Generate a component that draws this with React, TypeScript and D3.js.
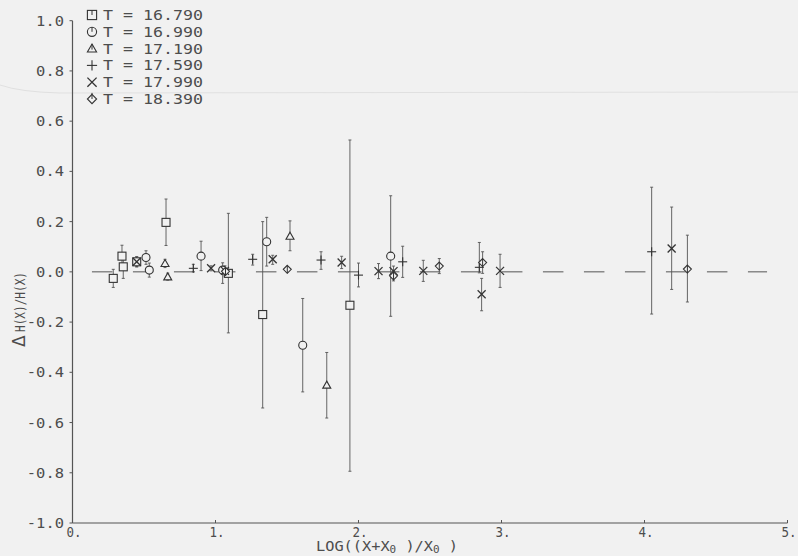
import React from "react";
import * as d3 from "d3";

const W = 798;
const H = 556;

// axis ticks
const xTicks = [0, 1, 2, 3, 4, 5];
const xTickLabels = ["0.", "1.", "2.", "3.", "4.", "5."];
const yTicks = [-1, -0.8, -0.6, -0.4, -0.2, 0, 0.2, 0.4, 0.6, 0.8, 1.0];
const yTickLabels = ["-1.0", "-0.8", "-0.6", "-0.4", "-0.2", "0.0", "0.2", "0.4", "0.6", "0.8", "1.0"];

// legend
const legendLabels = ["T = 16.790", "T = 16.990", "T = 17.190", "T = 17.590", "T = 17.990", "T = 18.390"];
const symbolKinds = ["square", "circle", "triangle", "plus", "cross", "diamond"];

// T = 16.790 (squares)
const sqX = [0.285, 0.346, 0.355, 0.449, 0.654, 1.09, 1.33, 1.94];
const sqY = [-0.026, 0.0625, 0.02, 0.04, 0.197, -0.006, -0.17, -0.133];
const sqLo = [-0.062, 0.018, -0.026, 0.02, 0.105, -0.243, -0.542, -0.794];
const sqHi = [0.01, 0.106, 0.066, 0.06, 0.29, 0.233, 0.2, 0.525];

// T = 16.990 (circles)
const ciX = [0.514, 0.537, 0.899, 1.05, 1.358, 1.61, 2.225];
const ciY = [0.057, 0.007, 0.0625, 0.007, 0.12, -0.292, 0.0625];
const ciLo = [0.03, -0.021, 0.005, -0.046, 0.023, -0.478, -0.177];
const ciHi = [0.084, 0.035, 0.122, 0.036, 0.217, -0.106, 0.303];

// T = 17.190 (triangles)
const trX = [0.647, 0.666, 1.521, 1.778];
const trY = [0.033, -0.02, 0.142, -0.451];
const trLo = [0.017, -0.033, 0.084, -0.582];
const trHi = [0.05, -0.005, 0.203, -0.321];

// T = 17.590 (plus)
const plX = [0.845, 1.26, 1.738, 2.0, 2.309, 2.845, 4.05];
const plY = [0.014, 0.05, 0.047, -0.013, 0.04, 0.018, 0.08];
const plLo = [0.0, 0.027, 0.01, -0.06, -0.022, -0.004, -0.168];
const plHi = [0.03, 0.07, 0.08, 0.035, 0.102, 0.117, 0.337];

// T = 17.990 (crosses)
const crX = [0.449, 0.969, 1.066, 1.4, 1.882, 2.14, 2.245, 2.453, 2.861, 2.99, 4.19];
const crY = [0.04, 0.014, 0.004, 0.05, 0.037, 0.003, 0.003, 0.004, -0.089, 0.004, 0.093];
const crLo = [0.02, 0.004, -0.016, 0.03, 0.013, -0.027, -0.017, -0.038, -0.155, -0.062, -0.07];
const crHi = [0.06, 0.024, 0.024, 0.066, 0.062, 0.033, 0.023, 0.046, -0.026, 0.07, 0.258];

// T = 18.390 (diamonds)
const diX = [1.07, 1.502, 2.245, 2.565, 2.868, 4.3];
const diY = [0.002, 0.01, -0.016, 0.023, 0.037, 0.011];
const diLo = [-0.008, 0.0, -0.036, -0.007, -0.006, -0.12];
const diHi = [0.012, 0.02, 0.004, 0.053, 0.08, 0.146];

const zeroLineFrom = 0.136;
const zeroLineTo = 4.857;

const seriesX = [sqX, ciX, trX, plX, crX, diX];
const seriesY = [sqY, ciY, trY, plY, crY, diY];
const seriesLo = [sqLo, ciLo, trLo, plLo, crLo, diLo];
const seriesHi = [sqHi, ciHi, trHi, plHi, crHi, diHi];

const BG = "#f1f1f1";
const INK = "#333";
const LINE = "#555";
const TXT = "#4d4d4d";
const MONO = "'DejaVu Sans Mono', 'Liberation Mono', monospace";

const xScale = d3.scaleLinear().domain([0, 5]).range([72.5, 787.5]);
const yScale = d3.scaleLinear().domain([-1, 1]).range([523, 20.7]);

function Marker({ kind, cx, cy, s = 1, tick = false }: { kind: string; cx: number; cy: number; s?: number; tick?: boolean }) {
  const common = { fill: BG, stroke: INK, strokeWidth: 1.1 };
  const r = 4 * s;
  const tk = tick ? <line x1={cx} x2={cx} y1={cy - r} y2={cy} stroke={INK} strokeWidth={1} /> : null;
  switch (kind) {
    case "square":
      return (
        <g>
          <rect x={cx - r} y={cy - r} width={2 * r} height={2 * r} {...common} />
          {tk}
        </g>
      );
    case "circle":
      return (
        <g>
          <circle cx={cx} cy={cy} r={r} {...common} />
          {tk}
        </g>
      );
    case "triangle": {
      const p = d3.path();
      p.moveTo(cx, cy - r);
      p.lineTo(cx + r, cy + r * 0.75);
      p.lineTo(cx - r, cy + r * 0.75);
      p.closePath();
      return (
        <g>
          <path d={p.toString()} {...common} />
          {tick ? <line x1={cx} x2={cx} y1={cy - r} y2={cy + 1} stroke={INK} strokeWidth={1} /> : null}
        </g>
      );
    }
    case "plus":
      return (
        <g stroke={INK} strokeWidth={1.1}>
          <line x1={cx - r - 0.5} x2={cx + r + 0.5} y1={cy} y2={cy} />
          <line x1={cx} x2={cx} y1={cy - r - 0.5} y2={cy + r + 0.5} />
        </g>
      );
    case "cross":
      return (
        <g stroke={INK} strokeWidth={1.3}>
          <line x1={cx - r} x2={cx + r} y1={cy - r} y2={cy + r} />
          <line x1={cx - r} x2={cx + r} y1={cy + r} y2={cy - r} />
        </g>
      );
    case "diamond": {
      const p = d3.path();
      p.moveTo(cx, cy - r);
      p.lineTo(cx + r, cy);
      p.lineTo(cx, cy + r);
      p.lineTo(cx - r, cy);
      p.closePath();
      return (
        <g>
          <path d={p.toString()} {...common} />
          <line x1={cx} x2={cx} y1={cy - r - (tick ? 1.5 : 0)} y2={cy + (tick ? 0 : r)} stroke={INK} strokeWidth={1} />
        </g>
      );
    }
  }
  return null;
}

export default function App() {
  const zeroY = yScale(0);
  return (
    <div style={{ position: "fixed", left: 0, top: 0, width: W, height: H, background: BG }}>
      <svg width={W} height={H} viewBox={`0 0 ${W} ${H}`} style={{ display: "block" }}>
        <rect x={0} y={0} width={W} height={H} fill={BG} />
        {/* faint scan line */}
        <path d="M0,85 Q20,92 60,93 L798,92" fill="none" stroke="#e0e0e0" strokeWidth={1} />

        {/* axes */}
        <line x1={xScale(0)} x2={xScale(0)} y1={yScale(1)} y2={yScale(-1)} stroke={LINE} strokeWidth={1.2} />
        <line x1={xScale(0)} x2={xScale(5)} y1={yScale(-1)} y2={yScale(-1)} stroke={LINE} strokeWidth={1.2} />
        {yTicks.map((t, i) => (
          <g key={"yt" + i}>
            <line x1={xScale(0) - 3} x2={xScale(0)} y1={yScale(t)} y2={yScale(t)} stroke={LINE} strokeWidth={1} />
            <text
              x={64}
              y={yScale(t) + 5}
              textAnchor="end"
              fontFamily={MONO}
              fontSize={14}
              fill={TXT}
              textLength={yTickLabels[i].length * 9.3}
              lengthAdjust="spacingAndGlyphs"
            >
              {yTickLabels[i]}
            </text>
          </g>
        ))}
        {xTicks.map((t, i) => (
          <g key={"xt" + i}>
            <line x1={xScale(t)} x2={xScale(t)} y1={yScale(-1)} y2={yScale(-1) - 3} stroke={LINE} strokeWidth={1} />
            <text
              x={xScale(t) - 6}
              y={537}
              fontFamily={MONO}
              fontSize={14}
              fill={TXT}
              textLength={15}
              lengthAdjust="spacingAndGlyphs"
            >
              {xTickLabels[i]}
            </text>
          </g>
        ))}

        {/* axis titles */}
        <text x={316} y={551} fontFamily={MONO} fontSize={14} fill={TXT} textLength={142} lengthAdjust="spacingAndGlyphs">
          LOG((X+X<tspan fontSize={10} dy={2}>0</tspan>
          <tspan dy={-2}> )/X</tspan>
          <tspan fontSize={10} dy={2}>0</tspan>
          <tspan dy={-2}> )</tspan>
        </text>
        <g transform="translate(25,0) rotate(-90)">
          <text x={-347} y={0} fontFamily="'DejaVu Sans', sans-serif" fontSize={17} fill={TXT}>
            Δ
          </text>
          <text x={-332} y={0} fontFamily={MONO} fontSize={14} fill={TXT} textLength={60} lengthAdjust="spacingAndGlyphs">
            H(X)/H(X)
          </text>
        </g>

        {/* zero reference dashed line */}
        <line
          x1={xScale(zeroLineFrom)}
          x2={xScale(zeroLineTo)}
          y1={zeroY}
          y2={zeroY}
          stroke={LINE}
          strokeWidth={1}
          strokeDasharray="20.5,20.5"
        />

        {/* error bars */}
        {seriesX.map((xs, si) =>
          xs.map((x, i) => {
            const px = xScale(x);
            const y1 = yScale(seriesHi[si][i]);
            const y2 = yScale(seriesLo[si][i]);
            return (
              <g key={`e${si}-${i}`} stroke={LINE} strokeWidth={0.9}>
                <line x1={px} x2={px} y1={y1} y2={y2} />
                <line x1={px - 1.5} x2={px + 1.5} y1={y1} y2={y1} />
                <line x1={px - 1.5} x2={px + 1.5} y1={y2} y2={y2} />
              </g>
            );
          })
        )}

        {/* markers */}
        {seriesX.map((xs, si) =>
          xs.map((x, i) => (
            <Marker key={`m${si}-${i}`} kind={symbolKinds[si]} cx={xScale(x)} cy={yScale(seriesY[si][i])} />
          ))
        )}

        {/* legend */}
        {legendLabels.map((lab, i) => {
          const cy = 15 + i * 16.8;
          return (
            <g key={"lg" + i}>
              <Marker kind={symbolKinds[i]} cx={92} cy={cy} s={1.15} tick />
              <text
                x={103}
                y={cy + 5}
                fontFamily={MONO}
                fontSize={14}
                fill={TXT}
                textLength={100}
                lengthAdjust="spacingAndGlyphs"
              >
                {lab}
              </text>
            </g>
          );
        })}
      </svg>
    </div>
  );
}
